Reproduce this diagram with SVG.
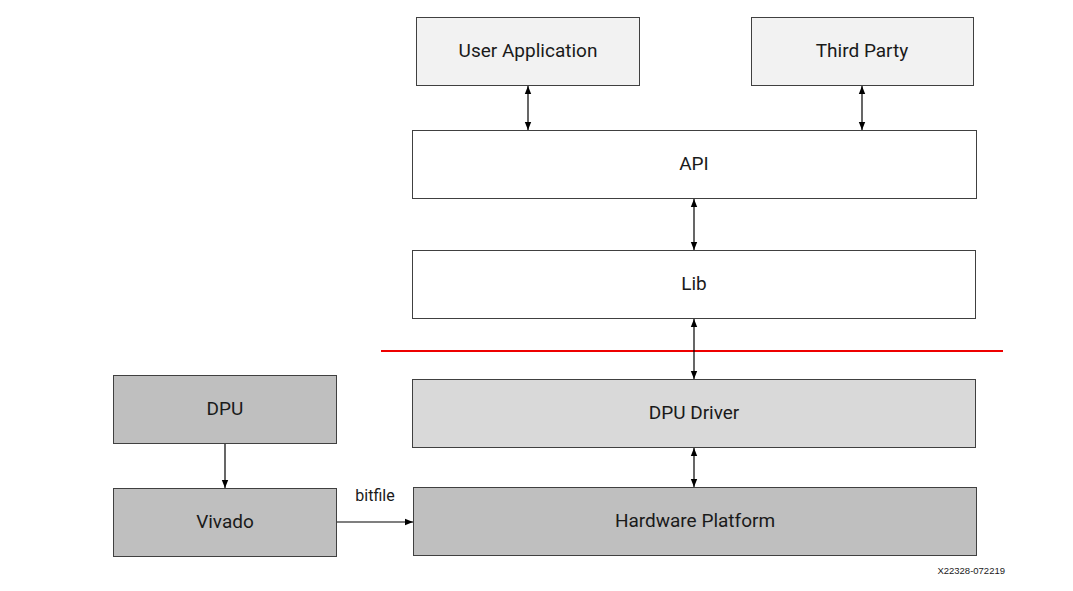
<svg xmlns="http://www.w3.org/2000/svg" width="1073" height="591" viewBox="0 0 1073 591">
  <defs>
    <marker id="ah" viewBox="0 0 10 10" refX="10" refY="5" markerWidth="8" markerHeight="8" markerUnits="userSpaceOnUse" orient="auto-start-reverse">
      <path d="M0,1 L10,5 L0,9 Z" fill="#000"/>
    </marker>
  </defs>
  <style>
    .box { stroke: #404040; stroke-width: 1; }
    .lbl { font-family: Roboto, "Liberation Sans", Arial, sans-serif; font-size: 19px; fill: #1a1a1a; text-anchor: middle; dominant-baseline: central; }
    .conn { stroke: #000; stroke-width: 1.2; fill: none; }
  </style>
  <rect width="1073" height="591" fill="#fff"/>

  <g id="user-application">
    <rect class="box" x="416.5" y="17.5" width="223" height="68" fill="#f2f2f2"/>
    <text class="lbl" x="528" y="50">User Application</text>
  </g>
  <g id="third-party">
    <rect class="box" x="751.5" y="17.5" width="222" height="68" fill="#f2f2f2"/>
    <text class="lbl" x="862" y="50">Third Party</text>
  </g>
  <g id="api">
    <rect class="box" x="412.5" y="130.5" width="564" height="68" fill="#fff"/>
    <text class="lbl" x="694" y="163">API</text>
  </g>
  <g id="lib">
    <rect class="box" x="412.5" y="250.5" width="563" height="68" fill="#fff"/>
    <text class="lbl" x="694" y="283">Lib</text>
  </g>
  <g id="dpu-driver">
    <rect class="box" x="412.5" y="379.5" width="563" height="68" fill="#d9d9d9"/>
    <text class="lbl" x="694" y="412">DPU Driver</text>
  </g>
  <g id="hardware-platform">
    <rect class="box" x="413.5" y="487.5" width="563" height="68" fill="#bfbfbf"/>
    <text class="lbl" x="695" y="520">Hardware Platform</text>
  </g>
  <g id="dpu">
    <rect class="box" x="113.5" y="375.5" width="223" height="68" fill="#bfbfbf"/>
    <text class="lbl" x="225" y="408">DPU</text>
  </g>
  <g id="vivado">
    <rect class="box" x="113.5" y="488.5" width="223" height="68" fill="#bfbfbf"/>
    <text class="lbl" x="225" y="521">Vivado</text>
  </g>

  <!-- boundary between user space and kernel/hardware -->
  <line x1="381" y1="351" x2="1003" y2="351" stroke="#ee0000" stroke-width="2"/>

  <g id="connectors">
    <line class="conn" x1="528" y1="86" x2="528" y2="130" marker-start="url(#ah)" marker-end="url(#ah)"/>
    <line class="conn" x1="862" y1="86" x2="862" y2="130" marker-start="url(#ah)" marker-end="url(#ah)"/>
    <line class="conn" x1="694" y1="199" x2="694" y2="250" marker-start="url(#ah)" marker-end="url(#ah)"/>
    <line class="conn" x1="694" y1="319" x2="694" y2="379" marker-start="url(#ah)" marker-end="url(#ah)"/>
    <line class="conn" x1="694" y1="448" x2="694" y2="487" marker-start="url(#ah)" marker-end="url(#ah)"/>
    <line class="conn" x1="225" y1="444" x2="225" y2="488" marker-end="url(#ah)"/>
    <line class="conn" x1="337" y1="522" x2="413" y2="522" marker-end="url(#ah)"/>
    <text x="375" y="501" font-family="Roboto, Liberation Sans, Arial, sans-serif" font-size="16" fill="#1a1a1a" text-anchor="middle">bitfile</text>
  </g>

  <text x="1005" y="574" font-family="Liberation Sans, Arial, sans-serif" font-size="9.5" fill="#1a1a1a" text-anchor="end">X22328-072219</text>
</svg>
